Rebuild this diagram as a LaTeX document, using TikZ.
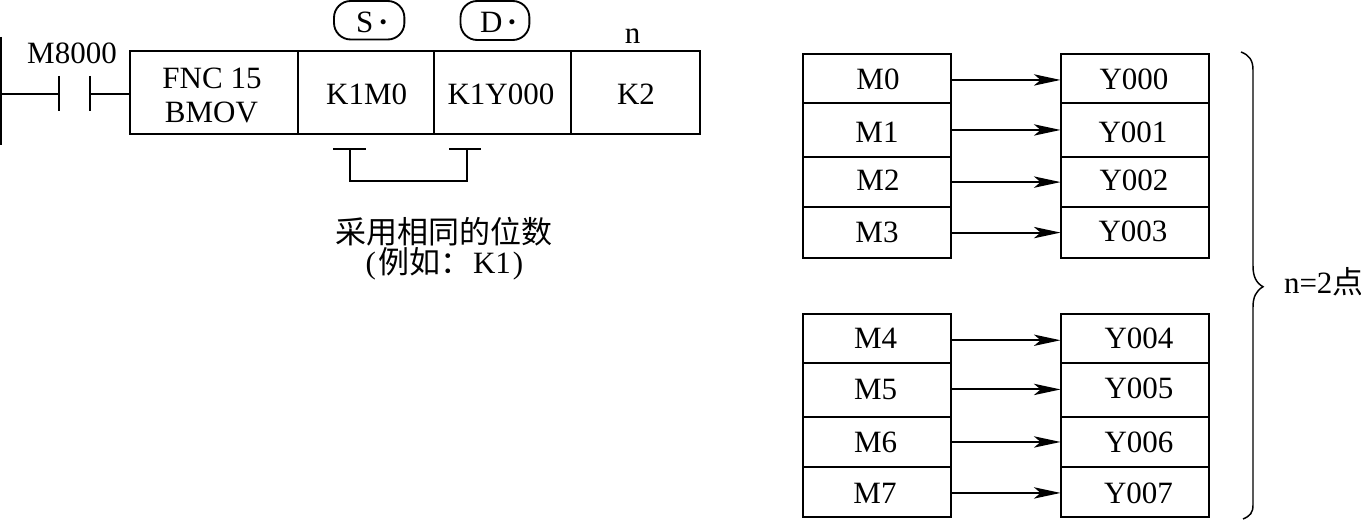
\documentclass[tikz,border=0pt]{standalone}
\usepackage{fontspec}
\setmainfont{Liberation Serif}
\newfontfamily\cjk{Noto Sans CJK SC}
\usetikzlibrary{arrows.meta}
\tikzset{
  cellbox/.style={draw=black,line width=1.5pt,inner sep=0pt,outer sep=0pt},
  pill/.style={draw=black,line width=1.4pt,inner sep=0pt,outer sep=0pt,rounded corners=12.5pt},
  lbl/.style={anchor=base,inner sep=0pt,outer sep=0pt,yshift=-0.75pt,font=\fontsize{23.25}{28}\selectfont},
  wire/.style={black,line width=1.5pt},
  thin wire/.style={black,line width=1.1pt},
  flow/.style={black,line width=1.5pt,-{Stealth[length=20pt,width=8.5pt,inset=5pt]}}
}
\newcommand{\cellat}[5]{\node[cellbox,minimum width={(#4-#2)*0.75pt},minimum height={(#5-#3)*0.75pt}] (#1) at ({(#2+#4)/2},{(#3+#5)/2}) {};}
\newcommand{\pillat}[5]{\node[pill,minimum width={(#4-#2)*0.75pt},minimum height={(#5-#3)*0.75pt}] (#1) at ({(#2+#4)/2},{(#3+#5)/2}) {};}
\begin{document}
\begin{tikzpicture}[x=0.75pt,y=-0.75pt]
\useasboundingbox (0,0) rectangle (1361,520);
% ladder
\coordinate (railtop) at (1,37);
\coordinate (railbot) at (1,145);
\coordinate (rungl) at (1,93.7);
\coordinate (pa) at (59,93.7);
\coordinate (pat) at (59,76);
\coordinate (pab) at (59,111);
\coordinate (pb) at (90,93.7);
\coordinate (pbt) at (90,76);
\coordinate (pbb) at (90,111);
\draw[wire] (railtop) -- (railbot);
\cellat{fnc}{130}{51}{298}{134.3}
\cellat{src}{298}{51}{434.3}{134.3}
\cellat{dst}{434.3}{51}{570.8}{134.3}
\cellat{cnt}{570.8}{51}{700}{134.3}
\draw[wire] (rungl) -- (pa);
\draw[wire] (pat) -- (pab);
\draw[wire] (pbt) -- (pbb);
\draw[wire] (pb) -- (pb -| fnc.west);
\node[lbl] (m8000) at (72,63) {M8000};
\node[lbl] (fnctxt) at (212,87.7) {FNC 15};
\node[lbl] (bmov) at (211.4,121.7) {BMOV};
\node[lbl] (k1m0) at (366.7,103.3) {K1M0};
\node[lbl] (k1y) at (501,103.3) {K1Y000};
\node[lbl] (k2) at (636,103.3) {K2};
\node[lbl] (ntxt) at (632.5,42.5) {n};
\pillat{spill}{334}{1}{404.4}{39.5}
\pillat{dpill}{460.5}{1}{529.4}{40}
\node[lbl,anchor=base west] (stxt) at (356,32) {S\hspace{3.6pt}\textbf{·}};
\node[lbl,anchor=base west] (dtxt) at (480,32) {D\hspace{3.4pt}\textbf{·}};
% same-digit bracket
\coordinate (t1l) at (333,149);
\coordinate (t1r) at (366,149);
\coordinate (t1m) at (350,149);
\coordinate (t2l) at (449,149);
\coordinate (t2r) at (481,149);
\coordinate (t2m) at (467,149);
\coordinate (brb) at (350,181);
\draw[wire] (t1l) -- (t1r);
\draw[wire] (t2l) -- (t2r);
\draw[wire] (t1m) -- (brb) -- (brb -| t2m) -- (t2m);
\node[lbl] (note1) at (444,243) {\cjk 采用相同的位数};
\node[lbl] (note2) at (444.5,273) {(\hspace{1.5pt}\cjk 例如：\rmfamily\hspace{1.5pt}K1\hspace{1.5pt})};
% M / Y tables
\cellat{m0}{803}{54}{951.3}{102.7}
\cellat{m1}{803}{102.7}{951.3}{156.7}
\cellat{m2}{803}{156.7}{951.3}{206.7}
\cellat{m3}{803}{206.7}{951.3}{257.7}
\cellat{y0}{1060.6}{54}{1208.8}{102.7}
\cellat{y1}{1060.6}{102.7}{1208.8}{156.7}
\cellat{y2}{1060.6}{156.7}{1208.8}{206.7}
\cellat{y3}{1060.6}{206.7}{1208.8}{257.7}
\cellat{m4}{803}{313.8}{951.3}{362.7}
\cellat{m5}{803}{362.7}{951.3}{416.7}
\cellat{m6}{803}{416.7}{951.3}{466.7}
\cellat{m7}{803}{466.7}{951.3}{517.3}
\cellat{y4}{1060.6}{313.8}{1208.8}{362.7}
\cellat{y5}{1060.6}{362.7}{1208.8}{416.7}
\cellat{y6}{1060.6}{416.7}{1208.8}{466.7}
\cellat{y7}{1060.6}{466.7}{1208.8}{517.3}
\foreach \n/\x/\b/\t in {tm0/878/89/M0,tm1/877/141.7/M1,tm2/878/190/M2,tm3/877/241.7/M3,
  tm4/875.6/348/M4,tm5/875.6/399/M5,tm6/875.6/451.7/M6,tm7/875/502.3/M7,
  ty0/1134/89/Y000,ty1/1133/141.5/Y001,ty2/1134/190/Y002,ty3/1133/241/Y003,
  ty4/1139/348/Y004,ty5/1139/398/Y005,ty6/1139/451.7/Y006,ty7/1138.5/502/Y007}
  \node[lbl] (\n) at (\x,\b) {\t};
\foreach \i/\d in {0/-1.2,1/-0.2,2/-0.3,3/-0.3,4/-1.5,5/0.2,6/-0.2,7/-0.7}
  \draw[flow] ([yshift=\d pt]m\i.east) -- ([yshift=\d pt]y\i.west);
% brace
\coordinate (bt) at (1241,52);
\coordinate (tip) at (1263,286.7);
\coordinate (be) at (1243,519);
\draw[thin wire] (bt) .. controls (1249,55) and (1253,60) .. (1253,70)
  -- (1253,266) .. controls (1253,276) and (1256,283) .. (tip)
  .. controls (1256,291) and (1253,297) .. (1253,307)
  -- (1253,505) .. controls (1253,513) and (1250,516) .. (be);
\node[lbl,anchor=base west] (ntwo) at (1284,293) {n=2\cjk 点};
\end{tikzpicture}
\end{document}
